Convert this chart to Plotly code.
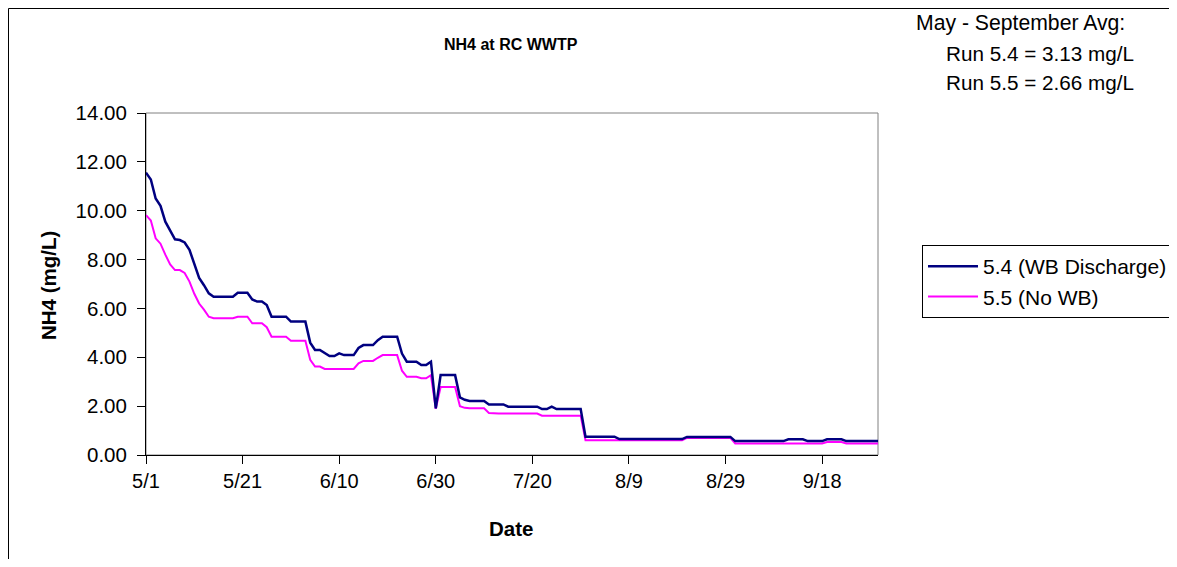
import pandas as pd
import plotly.graph_objects as go

# ---- data (daily values, May 1 - Sep 30) ----
s54_may = [11.56, 11.28, 10.50, 10.20, 9.55, 9.20, 8.83, 8.80, 8.70, 8.40, 7.85, 7.25, 6.95, 6.62,
           6.48, 6.48, 6.48, 6.48, 6.48, 6.64, 6.64, 6.64, 6.37, 6.28, 6.28, 6.14, 5.66, 5.66, 5.66,
           5.66, 5.46]
s54_jun = [5.46, 5.46, 5.46, 4.60, 4.30, 4.30, 4.19, 4.05, 4.05, 4.16, 4.09, 4.09, 4.09, 4.38,
           4.50, 4.50, 4.50, 4.70, 4.84, 4.84, 4.84, 4.84, 4.15, 3.82, 3.82, 3.82, 3.68, 3.68,
           3.82, 1.91]
s54_jul = [3.27, 3.27, 3.27, 3.27, 2.36, 2.26, 2.21, 2.21, 2.21, 2.21, 2.07, 2.07, 2.07, 2.07,
           1.98, 1.98, 1.98, 1.98, 1.98, 1.98, 1.98, 1.88, 1.88, 1.98, 1.88, 1.88, 1.88, 1.88,
           1.88, 1.88, 0.75]
s54_aug = [0.75, 0.75, 0.75, 0.75, 0.75, 0.75, 0.65, 0.65, 0.65, 0.65, 0.65, 0.65, 0.65, 0.65,
           0.65, 0.65, 0.65, 0.65, 0.65, 0.65, 0.74, 0.74, 0.74, 0.74, 0.74, 0.74, 0.74, 0.74,
           0.74, 0.74, 0.57]
s54_sep = [0.57, 0.57, 0.57, 0.57, 0.57, 0.57, 0.57, 0.57, 0.57, 0.57, 0.64, 0.64, 0.64, 0.64,
           0.57, 0.57, 0.57, 0.57, 0.64, 0.64, 0.64, 0.64, 0.57, 0.57, 0.57, 0.57, 0.57, 0.57,
           0.57, 0.57]

s55_may = [9.82, 9.60, 8.87, 8.65, 8.20, 7.80, 7.57, 7.57, 7.45, 7.10, 6.60, 6.20, 5.95, 5.66,
           5.60, 5.60, 5.60, 5.60, 5.60, 5.66, 5.66, 5.66, 5.39, 5.39, 5.39, 5.23, 4.84, 4.84,
           4.84, 4.84, 4.68]
s55_jun = [4.68, 4.68, 4.68, 3.90, 3.62, 3.62, 3.52, 3.52, 3.52, 3.52, 3.52, 3.52, 3.52, 3.75,
           3.85, 3.85, 3.85, 3.98, 4.09, 4.09, 4.09, 4.09, 3.45, 3.20, 3.20, 3.20, 3.14, 3.14,
           3.27, 1.89]
s55_jul = [2.78, 2.78, 2.78, 2.78, 2.00, 1.93, 1.91, 1.91, 1.91, 1.91, 1.72, 1.70, 1.70, 1.70,
           1.70, 1.70, 1.70, 1.70, 1.70, 1.70, 1.70, 1.61, 1.61, 1.61, 1.61, 1.61, 1.61, 1.61,
           1.61, 1.61, 0.60]
s55_aug = [0.60, 0.60, 0.60, 0.60, 0.60, 0.60, 0.60, 0.60, 0.60, 0.60, 0.60, 0.60, 0.60, 0.60,
           0.60, 0.60, 0.60, 0.60, 0.60, 0.60, 0.70, 0.70, 0.70, 0.70, 0.70, 0.70, 0.70, 0.70,
           0.70, 0.70, 0.47]
s55_sep = [0.47, 0.47, 0.47, 0.47, 0.47, 0.47, 0.47, 0.47, 0.47, 0.47, 0.47, 0.47, 0.47, 0.47,
           0.47, 0.47, 0.47, 0.47, 0.53, 0.53, 0.53, 0.53, 0.47, 0.47, 0.47, 0.47, 0.47, 0.47,
           0.47, 0.47]

start_date = "2005-05-01"
end_date = "2005-09-30"
tick_dates = ["2005-05-01", "2005-05-21", "2005-06-10", "2005-06-30", "2005-07-20",
              "2005-08-09", "2005-08-29", "2005-09-18"]
tick_labels = ["5/1", "5/21", "6/10", "6/30", "7/20", "8/9", "8/29", "9/18"]
y_ticks = [0, 2, 4, 6, 8, 10, 12, 14]

series_names = ["5.4 (WB Discharge)", "5.5 (No WB)"]
title_text = "NH4 at RC WWTP"
note_lines = ["May - September Avg:", "Run 5.4 = 3.13 mg/L", "Run 5.5 = 2.66 mg/L"]

dates = pd.date_range(start_date, end_date, freq="D")
s54 = s54_may + s54_jun + s54_jul + s54_aug + s54_sep
s55 = s55_may + s55_jun + s55_jul + s55_aug + s55_sep

FONT = "Liberation Sans, Arial, sans-serif"

fig = go.Figure()
fig.add_trace(go.Scatter(x=dates, y=s55, mode="lines", name=series_names[1],
                         legendrank=2, line=dict(color="#FF00FF", width=2)))
fig.add_trace(go.Scatter(x=dates, y=s54, mode="lines", name=series_names[0],
                         legendrank=1, line=dict(color="#000080", width=2.5)))

# the page body has an 8px margin on every side: size the figure so the page fits the window
OFF = 8
W, H = 1177 - 2 * OFF, 567 - 2 * OFF
ml, mt = 146 - OFF, 113 - OFF
mr = W - (878 - OFF)
mb = H - (455 - OFF)
pw, ph = W - ml - mr, H - mt - mb


def px(sx):
    return (sx - OFF - ml) / pw


def py(sy):
    return (H - mb - (sy - OFF)) / ph


def cx(sx):
    return (sx - OFF) / W


def cy(sy):
    return 1 - (sy - OFF) / H


fig.update_layout(
    width=W, height=H, autosize=False,
    margin=dict(l=ml, r=mr, t=mt, b=mb, pad=0, autoexpand=False),
    paper_bgcolor="white", plot_bgcolor="white",
    font=dict(family=FONT, size=20, color="black"),
    showlegend=True,
    legend=dict(xref="container", yref="container",
                x=cx(922), y=cy(245), xanchor="left", yanchor="top",
                bordercolor="black", borderwidth=1, bgcolor="white",
                font=dict(size=21), itemwidth=50),
)

fig.update_xaxes(
    type="date",
    range=["2005-05-01", "2005-09-29 13:30"],
    tickvals=tick_dates, ticktext=tick_labels,
    ticks="outside", ticklen=8, tickcolor="black", tickwidth=1,
    showline=True, linecolor="black", linewidth=1, mirror=False,
    showgrid=False, zeroline=False, automargin=False,
    tickfont=dict(size=20),
)
fig.update_yaxes(
    range=[0, 14], tickvals=y_ticks, tickformat=".2f",
    ticks="outside", ticklen=8, tickcolor="black", tickwidth=1,
    showline=True, linecolor="black", linewidth=1, mirror=False,
    showgrid=False, zeroline=False, automargin=False,
    tickfont=dict(size=20.5), ticklabelstandoff=6,
)

# plot-area border (grey) and outer chart frame (black)
fig.add_shape(type="rect", xref="paper", yref="paper", x0=0, x1=1, y0=0, y1=1,
              line=dict(color="#808080", width=1), layer="below")
fig.add_shape(type="rect", xref="paper", yref="paper",
              x0=px(8.5), x1=px(1400), y0=py(800), y1=py(8.5),
              line=dict(color="black", width=1), layer="below")

ann = [
    dict(text="<b>" + title_text + "</b>", x=px(511), y=py(44), size=16),
    dict(text="<b>Date</b>", x=px(511), y=py(528), size=20.5),
    dict(text="<b>NH4 (mg/L)</b>", x=px(48), y=py(285), textangle=-90, size=20.5),
]
for a in ann:
    sz = a.pop("size")
    fig.add_annotation(xref="paper", yref="paper", showarrow=False,
                       xanchor="center", yanchor="middle",
                       font=dict(size=sz, family=FONT), **a)

note_pos = [(914, 23, 21.2), (944, 54, 20.7), (944, 82, 20.7)]
for t, (xx, yy, sz) in zip(note_lines, note_pos):
    fig.add_annotation(xref="paper", yref="paper", showarrow=False,
                       xanchor="left", yanchor="middle", x=px(xx), y=py(yy),
                       text=t, font=dict(size=sz, family=FONT))

fig.write_html("out.html")
